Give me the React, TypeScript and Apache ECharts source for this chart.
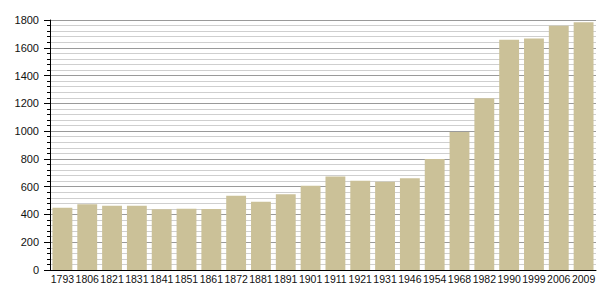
import React, { useEffect, useRef } from "react";
import * as echarts from "echarts";

const years = [
  "1793", "1806", "1821", "1831", "1841", "1851", "1861", "1872", "1881", "1891", "1901",
  "1911", "1921", "1931", "1946", "1954", "1968", "1982", "1990", "1999", "2006", "2009",
];
const population = [
  448, 473, 463, 463, 437, 441, 439, 535, 492, 545, 607,
  674, 643, 636, 660, 799, 993, 1236, 1658, 1666, 1759, 1783,
];
const yMin = 0;
const yMax = 1800;
const yInterval = 200;

export default function App() {
  const ref = useRef<HTMLDivElement>(null);
  useEffect(() => {
    if (!ref.current) return;
    const chart = echarts.init(ref.current, null, { renderer: "svg" });
    const font = "'Liberation Sans', Arial, Helvetica, sans-serif";
    chart.setOption({
      animation: false,
      backgroundColor: "#ffffff",
      grid: { left: 50, right: 9, top: 20, bottom: 30, containLabel: false },
      xAxis: {
        type: "category",
        data: years,
        axisLine: { show: true, lineStyle: { color: "#000", width: 1 } },
        axisTick: { show: false },
        axisLabel: {
          interval: 0,
          margin: 3,
          color: "#111",
          fontSize: 10.5,
          fontFamily: font,
        },
        splitLine: { show: false },
      },
      yAxis: {
        type: "value",
        min: yMin,
        max: yMax,
        interval: yInterval,
        axisLine: { show: true, lineStyle: { color: "#000", width: 1 } },
        axisTick: { show: true, length: 6, lineStyle: { color: "#000" } },
        minorTick: { show: true, splitNumber: 5, length: 3, lineStyle: { color: "#000" } },
        axisLabel: {
          margin: 11,
          color: "#111",
          fontSize: 11,
          fontFamily: font,
          formatter: (v: number) => String(v),
        },
        splitLine: { show: true, lineStyle: { color: "#9a9a9a", width: 1 } },
        minorSplitLine: { show: true, lineStyle: { color: "#cfcfcf", width: 1 } },
      },
      series: [
        {
          type: "bar",
          data: population,
          barCategoryGap: "20%",
          itemStyle: { color: "#cbc198" },
        },
      ],
    });
    return () => chart.dispose();
  }, []);
  return (
    <div
      ref={ref}
      style={{ position: "fixed", left: 0, top: 0, width: 605, height: 300, background: "#fff" }}
    />
  );
}
